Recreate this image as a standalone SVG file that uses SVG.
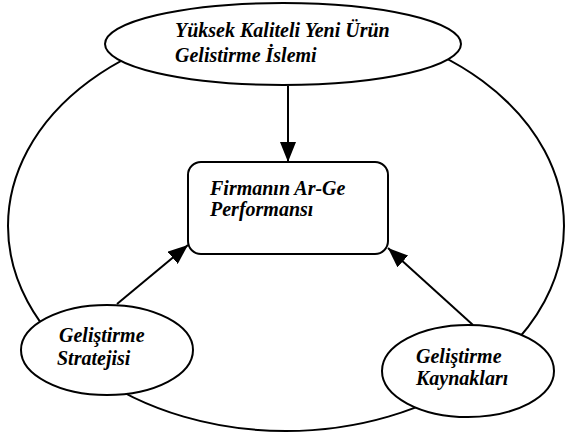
<svg xmlns="http://www.w3.org/2000/svg" width="565" height="436" viewBox="0 0 565 436">
<defs>
<style>
.ln{fill:none;stroke:#000;stroke-width:2}
.nd{fill:#fff;stroke:#000;stroke-width:2}
</style>
<marker id="ah2" viewBox="0 0 20 16" refX="20" refY="8" markerWidth="20" markerHeight="16" markerUnits="userSpaceOnUse" orient="auto">
<path d="M0,0 L20,8 L0,16 z" fill="#000"/>
</marker>
</defs>
<rect width="565" height="436" fill="#fff"/>
<g id="cycle">
<ellipse class="ln" cx="286" cy="226" rx="278" ry="205"/>
</g>
<g id="connectors">
<line class="ln" x1="288" y1="86" x2="288" y2="162" marker-end="url(#ah2)"/>
<line class="ln" x1="117" y1="304" x2="188" y2="245" marker-end="url(#ah2)"/>
<line class="ln" x1="473" y1="325" x2="388" y2="248" marker-end="url(#ah2)"/>
</g>
<g font-family="Liberation Serif, DejaVu Serif, serif" font-weight="bold" font-style="italic" font-size="20" fill="#000">
<g id="node-top">
<ellipse class="nd" cx="283" cy="44" rx="178" ry="41"/>
<text x="175" y="37">Yüksek Kaliteli Yeni Ürün</text>
<text x="175" y="62">Gelistirme İslemi</text>
</g>
<g id="node-center">
<rect class="nd" x="188" y="162" width="200" height="92" rx="13"/>
<text x="210" y="195">Firmanın Ar-Ge</text>
<text x="210" y="216">Performansı</text>
</g>
<g id="node-left">
<ellipse class="nd" cx="107" cy="350" rx="86" ry="45"/>
<text x="59" y="342">Geliştirme</text>
<text x="57" y="365">Stratejisi</text>
</g>
<g id="node-right">
<ellipse class="nd" cx="468" cy="371" rx="86" ry="46"/>
<text x="416" y="363">Geliştirme</text>
<text x="416" y="385">Kaynakları</text>
</g>
</g>
</svg>
